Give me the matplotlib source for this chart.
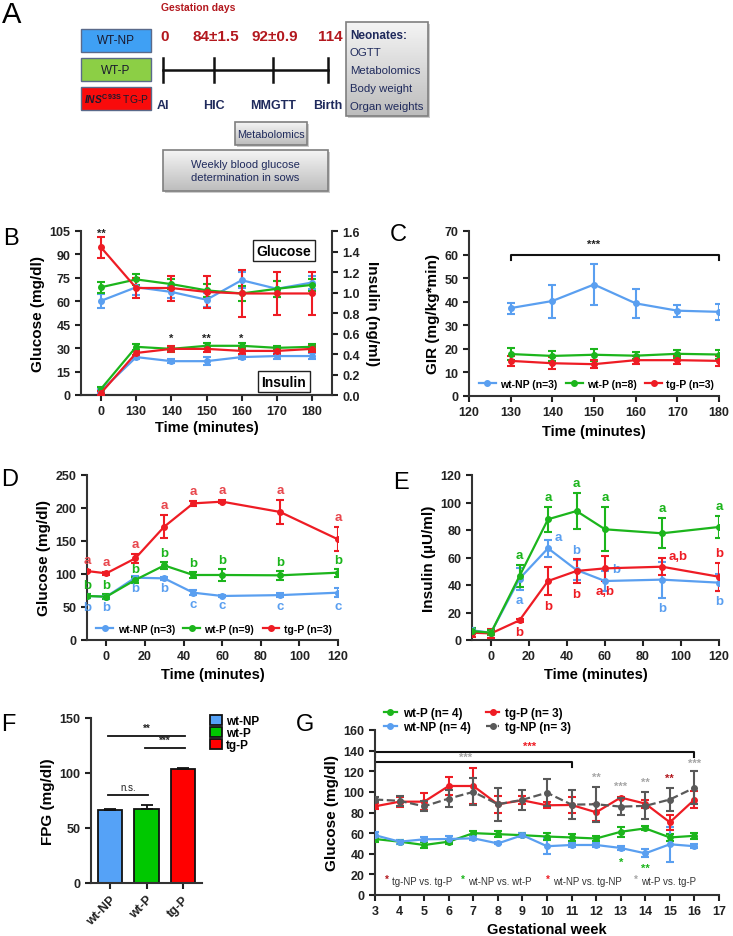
import matplotlib
matplotlib.use('Agg')
import matplotlib.pyplot as plt
import numpy as np
from matplotlib.patches import Rectangle
from matplotlib.lines import Line2D
from matplotlib.colors import LinearSegmentedColormap

plt.rcParams['font.family'] = ['Liberation Sans', 'DejaVu Sans']
plt.rcParams['font.weight'] = 'bold'
plt.rcParams['axes.labelweight'] = 'bold'
plt.rcParams['axes.linewidth'] = 1.5
plt.rcParams['axes.edgecolor'] = '#333333'
plt.rcParams['xtick.major.width'] = 1.5
plt.rcParams['ytick.major.width'] = 1.5
plt.rcParams['xtick.major.size'] = 4
plt.rcParams['ytick.major.size'] = 4
plt.rcParams['xtick.labelsize'] = 9
plt.rcParams['ytick.labelsize'] = 9
plt.rcParams['mathtext.fontset'] = 'custom'
plt.rcParams['mathtext.it'] = 'Liberation Sans:italic'
plt.rcParams['mathtext.rm'] = 'Liberation Sans'

# ---------------- data ----------------
# Panel A
a_groups = ['WT-NP', 'WT-P', r'$\mathit{INS}^{\mathrm{C93S}}$ TG-P']
a_days = ['0', '84±1.5', '92±0.9', '114']
a_events = ['AI', 'HIC', 'MMGTT', 'Birth']
a_neonates = ['OGTT', 'Metabolomics', 'Body weight', 'Organ weights']

# Panel B
b_time_labels = ['0', '130', '140', '150', '160', '170', '180']
b_glu_wtnp = [60.3, 69.0, 66.0, 61.0, 73.5, 68.0, 72.0]
b_glu_wtnp_err = [4.5, 5.0, 4.0, 4.5, 5.0, 5.0, 4.0]
b_glu_wtp = [69.0, 74.0, 71.0, 67.0, 65.0, 68.0, 70.5]
b_glu_wtp_err = [3.5, 3.5, 3.0, 4.0, 5.0, 5.0, 4.0]
b_glu_tgp = [94.5, 68.5, 68.5, 66.0, 65.0, 65.0, 65.0]
b_glu_tgp_err = [6.5, 6.5, 8.0, 10.0, 15.0, 13.5, 14.0]
b_ins_wtnp = [0.04, 0.37, 0.33, 0.33, 0.37, 0.38, 0.38]
b_ins_wtnp_err = [0.02, 0.02, 0.02, 0.04, 0.02, 0.03, 0.03]
b_ins_wtp = [0.06, 0.47, 0.45, 0.48, 0.48, 0.46, 0.47]
b_ins_wtp_err = [0.02, 0.03, 0.02, 0.03, 0.03, 0.02, 0.03]
b_ins_tgp = [0.02, 0.41, 0.45, 0.45, 0.43, 0.43, 0.45]
b_ins_tgp_err = [0.02, 0.02, 0.03, 0.03, 0.03, 0.03, 0.03]
b_stars = ['**', '', '*', '**', '*', '', '']

# Panel C
c_time = [130, 140, 150, 160, 170, 180]
c_wtnp = [37.3, 40.3, 47.3, 39.3, 36.2, 35.7]
c_wtnp_err = [2.3, 7.0, 8.5, 6.0, 2.5, 3.3]
c_wtp = [17.8, 17.0, 17.5, 17.1, 17.9, 17.6]
c_wtp_err = [2.5, 2.0, 2.6, 1.6, 1.6, 1.8]
c_tgp = [14.9, 13.9, 13.5, 15.2, 15.2, 14.9]
c_tgp_err = [2.2, 2.5, 1.7, 1.8, 1.8, 2.2]

# Panel D
d_time = [-10, 0, 15, 30, 45, 60, 90, 120]
d_wtnp = [66.7, 65.6, 94.4, 93.4, 71.7, 66.7, 68.0, 71.7]
d_wtnp_err = [3, 3, 2, 2, 4, 1, 3, 7]
d_wtp = [66.7, 65.6, 91.0, 113.0, 98.5, 98.5, 98.0, 102.0]
d_wtp_err = [3, 4, 4, 5, 5, 9, 7, 6]
d_tgp = [104.5, 101.0, 123.7, 171.7, 207.0, 209.6, 194.0, 152.5]
d_tgp_err = [2, 2, 7, 17, 4, 2, 18, 18]
d_lab_wtnp = ['b', 'b', 'b', 'b', 'c', 'c', 'c', 'c']
d_lab_wtp = ['b'] * 8
d_lab_tgp = ['a'] * 8

# Panel E
e_time = [-10, 0, 15, 30, 45, 60, 90, 120]
e_wtnp = [7.0, 5.3, 44.6, 66.7, 50.9, 42.9, 43.9, 41.7]
e_wtnp_err = [2, 2, 8, 6, 7, 7, 13, 6]
e_wtp = [6.5, 5.3, 46.5, 87.8, 93.8, 80.5, 77.6, 82.2]
e_wtp_err = [2, 2, 8, 9, 13, 16, 11, 8]
e_tgp = [5.3, 4.8, 14.3, 42.9, 50.2, 52.1, 53.3, 46.0]
e_tgp_err = [3, 3, 1, 10.5, 9, 9, 6, 10]
e_lab_wtnp = ['', '', 'a', 'a', 'b', 'b', 'b', 'b']
e_lab_wtp = ['', '', 'a', 'a', 'a', 'a', 'a', 'a']
e_lab_tgp = ['', '', 'b', 'b', 'b', 'a,b', 'a,b', 'b']
# label placement (layout)
e_pos_wtnp = ['', '', 'below', 'right', 'above', 'right', 'below', 'below']
e_pos_wtp = ['', '', 'above', 'above', 'above', 'above', 'above', 'above']
e_pos_tgp = ['', '', 'below', 'below', 'below', 'below', 'right', 'above']

# Panel F
f_groups = ['wt-NP', 'wt-P', 'tg-P']
f_vals = [66.0, 67.0, 103.5]
f_err = [1.2, 3.8, 1.2]

# Panel G
g_weeks = [3, 4, 5, 6, 7, 8, 9, 10, 11, 12, 13, 14, 15, 16]
g_wtp = [54.3, 51.7, 48.5, 51.7, 60.0, 59.0, 58.0, 56.7, 55.8, 54.8, 61.3, 64.6, 55.8, 57.4]
g_wtp_err = [3, 2, 3, 2, 2, 3, 2, 3, 3, 2, 5, 2, 3, 3]
g_wtnp = [58.0, 51.7, 54.0, 54.3, 55.0, 50.0, 58.0, 47.3, 48.5, 48.5, 45.6, 40.4, 49.2, 47.3]
g_wtnp_err = [3, 2, 2, 3, 2, 1, 2, 8, 2, 2, 1.5, 4, 17, 2]
g_tgp = [86.0, 90.5, 90.5, 105.7, 105.7, 88.0, 91.8, 87.0, 87.3, 80.2, 94.5, 88.6, 70.5, 92.5]
g_tgp_err = [3, 5, 8, 9, 17, 8, 4, 3, 8, 8, 1, 4, 7, 8]
g_tgnp = [92.6, 91.3, 86.0, 93.5, 100.0, 88.0, 92.3, 99.2, 87.6, 88.0, 85.7, 86.4, 92.6, 104.0]
g_tgnp_err = [2, 5, 5, 8, 13, 16, 10, 13, 14, 17, 8, 13, 11, 16]

# ---------------- style ----------------
BLUE = '#5a9ff0'
GREEN = '#1cb51c'
RED = '#ee1c24'
GRAY = '#595959'
LGRAY = '#a6a6a6'
DARKRED = '#b3181e'
NAVY = '#1f2a5c'

W, H = 733, 937
fig = plt.figure(figsize=(W / 100, H / 100), dpi=100)


def axbox(l, t, w, h):
    return fig.add_axes([l / W, 1 - (t + h) / H, w / W, h / H])


def style(ax, right=False):
    ax.spines['top'].set_visible(False)
    if not right:
        ax.spines['right'].set_visible(False)
    ax.tick_params(direction='out', colors='#222222')
    for lab in ax.get_xticklabels() + ax.get_yticklabels():
        lab.set_fontweight('bold')


def eb(ax, x, y, e, color, ls='-', zorder=3):
    ax.errorbar(x, y, yerr=e, color=color, ecolor=color, lw=1.6, ls=ls,
                marker='o', ms=4, capsize=3, capthick=1.5, elinewidth=1.5,
                zorder=zorder)


def letter(txt, x, y, size=17):
    fig.text(x / W, 1 - y / H, txt, fontsize=size, fontweight='normal',
             ha='left', va='top', color='black')


# ---------------- Panel A ----------------
axA = fig.add_axes([0, 1 - 200 / H, 1, 200 / H])
axA.set_xlim(0, W)
axA.set_ylim(200, 0)
axA.axis('off')

grad = np.linspace(0, 1, 50).reshape(-1, 1)
gcmap = LinearSegmentedColormap.from_list('g', ['#f4f4f4', '#bdbdbd'])


def gbox(x0, y0, x1, y1):
    r = Rectangle((x0, y0), x1 - x0, y1 - y0, facecolor='none',
                  edgecolor='#7f7f7f', lw=1.2, zorder=3)
    axA.add_patch(r)
    im = axA.imshow(grad, extent=(x0, x1, y1, y0), cmap=gcmap,
                    aspect='auto', zorder=2)
    im.set_clip_path(r)
    axA.add_patch(Rectangle((x0 + 2, y0 + 2), x1 - x0, y1 - y0,
                            facecolor='#cccccc', edgecolor='none', zorder=1))


box_cols = ['#3fa0f4', '#8ccf45', '#f90b0b']
box_ys = [30, 59, 88]
box_fs = [8.5, 8.5, 7.4]
for g, c, yy, fs in zip(a_groups, box_cols, box_ys, box_fs):
    axA.add_patch(Rectangle((81, yy), 70, 23, facecolor=c,
                            edgecolor='#5a6a8a', lw=1.0, zorder=3))
    axA.text(116, yy + 11.5, g, ha='center', va='center', fontsize=fs,
             fontweight='normal', color='#1a1a2e', zorder=4)

tick_x = [163, 214, 273, 328]
axA.plot([tick_x[0], tick_x[-1]], [71, 71], color='#111111', lw=1.8)
for tx, d, ev in zip(tick_x, a_days, a_events):
    axA.plot([tx, tx], [59, 83], color='#111111', lw=1.8)
    axA.text(tx + 2, 37, d, ha='center', va='center', fontsize=11,
             color=DARKRED, fontweight='bold')
    axA.text(tx, 106, ev, ha='center', va='center', fontsize=9,
             color=NAVY, fontweight='bold')
axA.text(161, 8, 'Gestation days', ha='left', va='center', fontsize=7.5,
         color=DARKRED, fontweight='bold')

gbox(346, 23, 428, 117)
axA.text(350, 36, 'Neonates:', ha='left', va='center', fontsize=8.5,
         color=NAVY, fontweight='bold', zorder=5)
for i, t in enumerate(a_neonates):
    axA.text(350, 53.5 + 17.7 * i, t, ha='left', va='center', fontsize=8.2,
             color=NAVY, fontweight='normal', zorder=5)
gbox(235, 123, 307, 146)
axA.text(271, 135, 'Metabolomics', ha='center', va='center', fontsize=7.8,
         color=NAVY, fontweight='normal', zorder=5)
gbox(163, 151, 328, 192)
axA.text(245, 171.5, 'Weekly blood glucose\ndetermination in sows',
         ha='center', va='center', fontsize=8, color=NAVY,
         fontweight='normal', linespacing=1.45, zorder=5)
letter('A', 2, 1, size=21)

# ---------------- Panel B ----------------
axB = axbox(81, 232, 251, 164)
xb = np.arange(len(b_time_labels))
eb(axB, xb, b_glu_wtnp, b_glu_wtnp_err, BLUE)
eb(axB, xb, b_glu_wtp, b_glu_wtp_err, GREEN)
eb(axB, xb, b_glu_tgp, b_glu_tgp_err, RED)
axB.set_xlim(-0.57, 6.57)
axB.set_ylim(0, 105)
axB.set_yticks(np.arange(0, 106, 15))
axB.set_xticks(xb)
axB.set_xticklabels(b_time_labels)
axB.set_ylabel('Glucose (mg/dl)', fontsize=11, labelpad=3)
axB.set_xlabel('Time (minutes)', fontsize=10.5, labelpad=2)
axB2 = axB.twinx()
eb(axB2, xb, b_ins_wtnp, b_ins_wtnp_err, BLUE)
eb(axB2, xb, b_ins_wtp, b_ins_wtp_err, GREEN)
eb(axB2, xb, b_ins_tgp, b_ins_tgp_err, RED)
axB2.set_ylim(0, 1.6)
axB2.set_yticks(np.arange(0, 1.61, 0.2))
axB2.set_yticklabels([f'{v:.1f}' for v in np.arange(0, 1.61, 0.2)])
axB2.set_ylabel('Insulin (ng/ml)', fontsize=11, rotation=270, labelpad=14)
style(axB)
style(axB2, right=True)
axB2.spines['left'].set_visible(False)
for i, s in enumerate(b_stars):
    if s:
        if i == 0:
            axB.text(xb[i], 104, s, ha='center', va='center', fontsize=8,
                     color='#222222', clip_on=False)
        else:
            axB.text(xb[i], 36.3, s, ha='center', va='center', fontsize=8,
                     color='#222222')
axB.text(5.2, 92.5, 'Glucose', ha='center', va='center', fontsize=10,
         bbox=dict(boxstyle='square,pad=0.25', fc='white', ec='#222222',
                   lw=1.0), zorder=5)
axB.text(5.2, 8.5, 'Insulin', ha='center', va='center', fontsize=10,
         bbox=dict(boxstyle='square,pad=0.25', fc='white', ec='#222222',
                   lw=1.0), zorder=5)
letter('B', 3, 228)

# ---------------- Panel C ----------------
axC = axbox(469, 232, 250, 165)
eb(axC, c_time, c_wtnp, c_wtnp_err, BLUE)
eb(axC, c_time, c_wtp, c_wtp_err, GREEN)
eb(axC, c_time, c_tgp, c_tgp_err, RED)
axC.set_xlim(120, 180)
axC.set_ylim(0, 70)
axC.set_xticks(np.arange(120, 181, 10))
axC.set_yticks(np.arange(0, 71, 10))
axC.set_ylabel('GIR (mg/kg*min)', fontsize=11, labelpad=3)
axC.set_xlabel('Time (minutes)', fontsize=10.5, labelpad=4)
axC.plot([c_time[0], c_time[0], c_time[-1], c_time[-1]],
         [57.5, 60, 60, 57.5], color='#111111', lw=1.5, clip_on=False)
axC.text(150, 64.5, '***', ha='center', va='center', fontsize=8,
         color='#222222')
hC = [Line2D([], [], color=BLUE, marker='o', ms=4, lw=1.6),
      Line2D([], [], color=GREEN, marker='o', ms=4, lw=1.6),
      Line2D([], [], color=RED, marker='o', ms=4, lw=1.6)]
axC.legend(hC, ['wt-NP (n=3)', 'wt-P (n=8)', 'tg-P (n=3)'], ncol=3,
           loc='lower center', bbox_to_anchor=(0.51, 0.0), frameon=False,
           handlelength=1.6, handletextpad=0.4, columnspacing=0.8,
           borderaxespad=0.3, prop={'weight': 'bold', 'size': 7.6})
style(axC)
letter('C', 390, 224)

# ---------------- Panel D ----------------
axD = axbox(87, 476, 251, 165)
eb(axD, d_time, d_wtnp, d_wtnp_err, BLUE)
eb(axD, d_time, d_wtp, d_wtp_err, GREEN)
eb(axD, d_time, d_tgp, d_tgp_err, RED)
axD.set_xlim(-10, 120)
axD.set_ylim(0, 250)
axD.set_xticks(np.arange(0, 121, 20))
axD.set_yticks(np.arange(0, 251, 50))
axD.set_ylabel('Glucose (mg/dl)', fontsize=11, labelpad=3)
axD.set_xlabel('Time (minutes)', fontsize=10.5, labelpad=3)
for x, y, e, l in zip(d_time, d_tgp, d_tgp_err, d_lab_tgp):
    axD.annotate(l, (x, y + e), xytext=(0, 3), textcoords='offset points',
                 ha='center', va='bottom', color='#e8474d', fontsize=9.5,
                 annotation_clip=False)
for x, y, e, l in zip(d_time, d_wtp, d_wtp_err, d_lab_wtp):
    axD.annotate(l, (x, y + e), xytext=(0, 2), textcoords='offset points',
                 ha='center', va='bottom', color=GREEN, fontsize=9.5,
                 annotation_clip=False)
for x, y, e, l in zip(d_time, d_wtnp, d_wtnp_err, d_lab_wtnp):
    axD.annotate(l, (x, y - e), xytext=(0, -2), textcoords='offset points',
                 ha='center', va='top', color=BLUE, fontsize=9.5,
                 annotation_clip=False)
axD.legend(hC, ['wt-NP (n=3)', 'wt-P (n=9)', 'tg-P (n=3)'], ncol=3,
           loc='lower center', bbox_to_anchor=(0.506, 0.0), frameon=False,
           handlelength=1.6, handletextpad=0.4, columnspacing=0.8,
           borderaxespad=0.2, prop={'weight': 'bold', 'size': 7.6})
style(axD)
letter('D', 1, 469)

# ---------------- Panel E ----------------
axE = axbox(472, 476, 247, 165)
eb(axE, e_time, e_wtnp, e_wtnp_err, BLUE)
eb(axE, e_time, e_tgp, e_tgp_err, RED)
eb(axE, e_time, e_wtp, e_wtp_err, GREEN)
axE.set_xlim(-10, 120)
axE.set_ylim(0, 120)
axE.set_xticks(np.arange(0, 121, 20))
axE.set_yticks(np.arange(0, 121, 20))
axE.set_ylabel('Insulin (\u00b5U/ml)', fontsize=11, labelpad=3)
axE.set_xlabel('Time (minutes)', fontsize=10.5, labelpad=3)


def elabels(xs, ys, es, labs, poss, color):
    for x, y, e, l, p in zip(xs, ys, es, labs, poss):
        if not l:
            continue
        if p == 'above':
            axE.annotate(l, (x, y + e), xytext=(0, 3),
                         textcoords='offset points', ha='center',
                         va='bottom', color=color, fontsize=9.5)
        elif p == 'below':
            axE.annotate(l, (x, y - e), xytext=(0, -3),
                         textcoords='offset points', ha='center', va='top',
                         color=color, fontsize=9.5)
        else:
            axE.annotate(l, (x, y + e), xytext=(5, 2),
                         textcoords='offset points', ha='left',
                         va='center', color=color, fontsize=9.5)


elabels(e_time, e_wtp, e_wtp_err, e_lab_wtp, e_pos_wtp, GREEN)
elabels(e_time, e_wtnp, e_wtnp_err, e_lab_wtnp, e_pos_wtnp, BLUE)
elabels(e_time, e_tgp, e_tgp_err, e_lab_tgp, e_pos_tgp, RED)
style(axE)
letter('E', 393, 472)

# ---------------- Panel F ----------------
axF = axbox(91, 719, 111, 165)
xf = np.arange(len(f_groups))
bar_cols = ['#55a2f7', '#00c800', '#ff0000']
bars = axF.bar(xf, f_vals, width=0.68, color=bar_cols, edgecolor='#111111',
               lw=1.3, zorder=2)
axF.errorbar(xf, f_vals, yerr=[[0] * 3, f_err], fmt='none', ecolor='#111111',
             elinewidth=1.3, capsize=4, capthick=1.3, zorder=3)
axF.set_xlim(-0.52, 2.52)
axF.set_ylim(0, 150)
axF.set_yticks([0, 50, 100, 150])
axF.set_xticks(xf)
axF.set_xticklabels(f_groups, rotation=45, ha='right', rotation_mode='anchor',
                    fontsize=9)
axF.set_ylabel('FPG (mg/dl)', fontsize=11, labelpad=3)
for (x0, x1, y, s) in [(0, 2, 134, '**'), (1, 2, 123, '***'),
                       (0, 1, 80, 'n.s.')]:
    axF.plot([x0 - 0.05, x1 + 0.05], [y, y], color='#111111', lw=1.3)
    axF.text((x0 + x1) / 2, y + 2.5, s, ha='center', va='bottom',
             fontsize=7, color='#222222',
             fontweight='normal' if s == 'n.s.' else 'bold')
style(axF)
axF.legend(bars, f_groups, loc='upper left', bbox_to_anchor=(1.07, 1.02),
           frameon=False, handlelength=1.0, handleheight=0.9,
           handletextpad=0.4, labelspacing=0.0, borderaxespad=0,
           borderpad=0, prop={'weight': 'bold', 'size': 8.5})
letter('F', 1, 714)

# ---------------- Panel G ----------------
axG = axbox(375, 731, 344, 165)
eb(axG, g_weeks, g_wtp, g_wtp_err, GREEN)
eb(axG, g_weeks, g_wtnp, g_wtnp_err, BLUE)
eb(axG, g_weeks, g_tgp, g_tgp_err, RED)
eb(axG, g_weeks, g_tgnp, g_tgnp_err, GRAY, ls='--', zorder=4)
axG.set_xlim(3, 17)
axG.set_ylim(0, 160)
axG.set_xticks(np.arange(3, 18, 1))
axG.set_yticks(np.arange(0, 161, 20))
axG.set_ylabel('Glucose (mg/dl)', fontsize=11, labelpad=3)
axG.set_xlabel('Gestational week', fontsize=10.5, labelpad=3)
axG.plot([g_weeks[0], g_weeks[0], g_weeks[-1], g_weeks[-1]],
         [134, 139, 139, 134], color='#111111', lw=1.5)
axG.text(9.3, 145, '***', ha='center', va='center', fontsize=8,
         color=RED)
axG.plot([g_weeks[0], g_weeks[0], 11, 11], [124, 129, 129, 124],
         color='#111111', lw=1.5)
axG.text(6.7, 134, '***', ha='center', va='center', fontsize=8,
         color=LGRAY)
for wk, yy, s, c in [(12, 115, '**', LGRAY), (13, 106, '***', LGRAY),
                     (14, 110, '**', LGRAY), (15, 114, '**', DARKRED),
                     (16, 128.5, '***', LGRAY), (13, 32, '*', GREEN),
                     (14, 26.5, '**', GREEN)]:
    axG.text(wk, yy, s, ha='center', va='center', fontsize=8, color=c)
for wk, s, c in [(3.47, 'tg-NP vs. tg-P', DARKRED),
                 (6.57, 'wt-NP vs. wt-P', GREEN),
                 (10.03, 'wt-NP vs. tg-NP', RED),
                 (13.62, 'wt-P vs. tg-P', LGRAY)]:
    axG.text(wk, 16, '*', ha='center', va='center', fontsize=7, color=c)
    axG.text(wk + 0.22, 13.8, s, ha='left', va='center', fontsize=7,
             fontweight='normal', color='#333333')
hG = [Line2D([], [], color=GREEN, marker='o', ms=4, lw=1.6),
      Line2D([], [], color=BLUE, marker='o', ms=4, lw=1.6),
      Line2D([], [], color=RED, marker='o', ms=4, lw=1.6),
      Line2D([], [], color=GRAY, marker='o', ms=4, lw=1.6, ls='--')]
fig.legend(hG, ['wt-P (n= 4)', 'wt-NP (n= 4)', 'tg-P (n= 3)', 'tg-NP (n= 3)'],
           ncol=2, loc='upper left', bbox_to_anchor=(384 / W, 1 - 708 / H),
           frameon=False, handlelength=1.1, handletextpad=0.5,
           columnspacing=1.3, labelspacing=0.15, borderaxespad=0,
           borderpad=0, prop={'weight': 'bold', 'size': 8.5})
style(axG)
letter('G', 296, 714)

fig.savefig('out.png', dpi=100)
